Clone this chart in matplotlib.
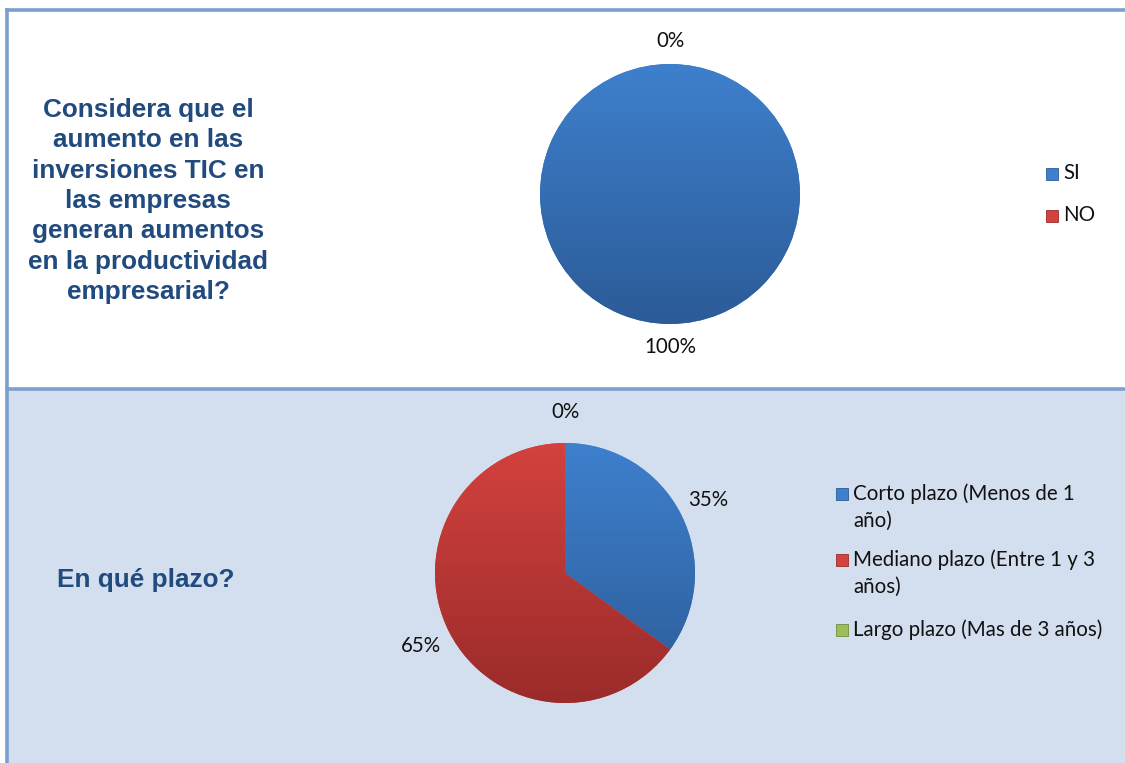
import numpy as np
import matplotlib.pyplot as plt
from matplotlib.colors import LinearSegmentedColormap
from matplotlib.patches import Rectangle
from matplotlib.lines import Line2D

# survey answers (percent)
q1_labels = ['SI', 'NO']
q1_values = [100, 0]
q2_labels = ['Corto plazo (Menos de 1\naño)', 'Mediano plazo (Entre 1 y 3\naños)',
             'Largo plazo (Mas de 3 años)']
q2_values = [35, 65, 0]

q1_title = 'Considera que el\naumento en las\ninversiones TIC en\nlas empresas\ngeneran aumentos\nen la productividad\nempresarial?'
q2_title = 'En qué plazo?'

# light (top) / dark (bottom) shade of each series colour
shades = [('#3e80cd', '#2c5b97'), ('#d3423e', '#9a2b2a'), ('#9cbd5a', '#71903a')]

W, H = 1125, 763
fig = plt.figure(figsize=(W / 100, H / 100), dpi=100)
fig.patch.set_facecolor('white')

def px(x, y):
    return x / W, 1 - y / H

# lower row background and table borders
bg = fig.add_axes([0, 0, 1, 1])
bg.set_xlim(0, W)
bg.set_ylim(H, 0)
bg.axis('off')
bg.add_patch(Rectangle((7, 389), W, H, color='#d3dfee', zorder=0))
border = '#7ba0cd'
bg.add_line(Line2D([7, W], [10, 10], color=border, lw=2.6))
bg.add_line(Line2D([7, W], [389, 389], color=border, lw=2.6))
bg.add_line(Line2D([7, 7], [10, H], color=border, lw=2.6))

title_kw = dict(ha='center', va='center', color='#214a7e', fontsize=18.8,
                fontweight='bold', family='Liberation Sans')
bg.text(148, 201, q1_title, linespacing=1.33, **title_kw)
bg.text(146, 580, q2_title, **title_kw)

text_kw = dict(fontsize=14.8, color='#111111', family='Lato')


def gradient_pie(cx, cy, r, values, pct_dist):
    x0, y1 = px(cx - r, cy + r)
    ax = fig.add_axes([x0, y1, 2 * r / W, 2 * r / H])
    wedges, texts, autotexts = ax.pie(
        values, startangle=90, counterclock=False,
        autopct='%1.0f%%', pctdistance=pct_dist,
        colors=[s[0] for s in shades[:len(values)]],
        wedgeprops=dict(linewidth=0), textprops=text_kw)
    grad = np.linspace(0, 1, 256).reshape(-1, 1)
    for w, (lo, hi) in zip(wedges, shades):
        cmap = LinearSegmentedColormap.from_list('g', [lo, hi])
        im = ax.imshow(grad, cmap=cmap, extent=(-1, 1, -1, 1), origin='upper',
                       aspect='auto', zorder=w.get_zorder() + 0.1)
        im.set_clip_path(w)
    ax.set_xlim(-1, 1)
    ax.set_ylim(-1, 1)
    ax.set_aspect('equal')
    for t in autotexts:
        t.set_clip_on(False)
        t.set_zorder(5)
    return ax


gradient_pie(670, 194, 130, q1_values, 1.18)
gradient_pie(565, 573, 130, q2_values, 1.24)


def legend(x, ys, labels):
    for y, lab, (lo, hi) in zip(ys, labels, shades):
        bg.add_patch(Rectangle((x, y - 6), 12, 12, facecolor=lo, edgecolor=hi, lw=0.6))
        bg.text(x + 17, y - 11, lab, ha='left', va='top', linespacing=1.48, **text_kw)


legend(1046, [174, 216], q1_labels)
legend(836, [494, 560, 630], q2_labels)

fig.savefig('out.png', dpi=100)
